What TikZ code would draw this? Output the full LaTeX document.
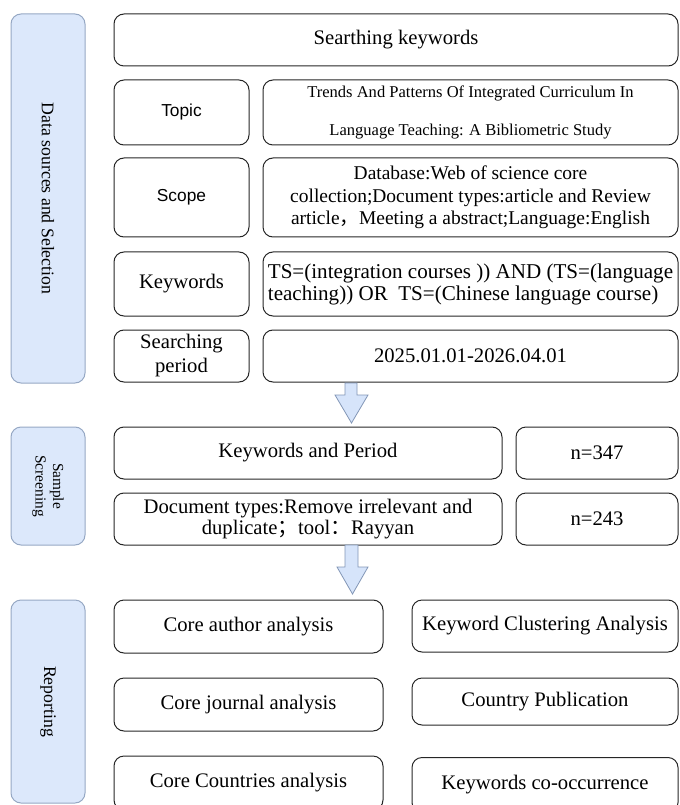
\documentclass[tikz,border=0pt]{standalone}
\usepackage{fontspec}
\setmainfont{Liberation Serif}
\newfontfamily\arialfont{Liberation Sans}
\newfontfamily\cjkfont{Noto Sans CJK SC}
\usetikzlibrary{calc}

\definecolor{panelfill}{RGB}{220,232,251}
\definecolor{paneldraw}{RGB}{150,168,196}
\definecolor{arrowfill}{RGB}{214,228,250}
\definecolor{arrowdraw}{RGB}{130,150,182}

\tikzset{every picture/.style={line width=0.75pt}}
\tikzset{
  stage/.style={draw=paneldraw, fill=panelfill, rounded corners=7.5pt, inner sep=0pt, rotate=-90, align=center},
  box/.style={draw=black!85, rounded corners=7.5pt, align=center, inner sep=0pt, font=\fontsize{15.5}{18}\selectfont},
  flowarrow/.style={draw=arrowdraw, fill=arrowfill, line width=0.6pt, line join=miter},
}

\begin{document}
\begin{tikzpicture}[x=0.75pt,y=0.75pt,yscale=-1,xscale=1]
        \useasboundingbox (0,0) rectangle (680,805);

        % Stages (left column)
        \node [stage, minimum width=276.75pt, minimum height=55.5pt, font=\fontsize{13.3}{16}\selectfont] (datasrc) at (48,198.5) {Data sources and Selection};
        \node [stage, minimum width=88.5pt, minimum height=55.5pt, font=\fontsize{11.5}{13}\selectfont] (screen) at (48,486) {Sample\\Screening};
        \node [stage, minimum width=152.25pt, minimum height=55.5pt, font=\fontsize{13.3}{16}\selectfont] (report) at (48,701.5) {Reporting};

        % Data sources and selection
        \node [box, minimum width=423pt, minimum height=39pt] (search) at (396,40) {Searthing keywords};
        \node [box, minimum width=101.25pt, minimum height=48.75pt, font=\arialfont\fontsize{13}{15}\selectfont] (topic) at (181.5,112.5) {Topic};
        \node [box, minimum width=311.25pt, minimum height=48.75pt, font=\fontsize{12.4}{28.5}\selectfont] (topictxt) at (470.5,112.5) {Trends And Patterns Of Integrated Curriculum In\\Language Teaching: A Bibliometric Study};
        \node [box, minimum width=101.25pt, minimum height=59.25pt, font=\arialfont\fontsize{13}{15}\selectfont] (scope) at (181.5,197.5) {Scope};
        \node [box, minimum width=311.25pt, minimum height=59.25pt, font=\fontsize{14.6}{17}\selectfont] (scopetxt) at (470.5,197.5) {Database:Web of science core\\collection;Document types:article and Review\\article{\cjkfont ，}Meeting a abstract;Language:English};
        \node [box, minimum width=101.25pt, minimum height=48pt] (kw) at (181.5,284) {Keywords};
        \node [box, minimum width=311.25pt, minimum height=48pt, align=left, font=\fontsize{15.8}{16.5}\selectfont] (kwtxt) at (470.5,284) {TS=(integration courses )) AND (TS=(language\\teaching)) OR\ \ TS=(Chinese language course)};
        \node [box, minimum width=101.25pt, minimum height=39pt, font=\fontsize{15.5}{18}\selectfont] (period) at (181.5,356) {Searching\\period};
        \node [box, minimum width=311.25pt, minimum height=39pt] (periodtxt) at (470.5,356) {2025.01.01-2026.04.01};

        % Sample screening
        \node [box, minimum width=291pt, minimum height=39pt] (kwper) at (308,453) {Keywords and Period};
        \node [box, minimum width=121.5pt, minimum height=39pt] (n347) at (597,453) {n=347};
        \node [box, minimum width=291pt, minimum height=39pt, font=\fontsize{15.5}{16}\selectfont] (doctype) at (308,519) {Document types:Remove irrelevant and\\duplicate{\cjkfont ；}tool{\cjkfont ：}Rayyan};
        \node [box, minimum width=121.5pt, minimum height=39pt] (n243) at (597,519) {n=243};

        % Reporting
        \node [box, minimum width=201.75pt, minimum height=39.75pt] (author) at (248.5,626.5) {Core author analysis};
        \node [box, minimum width=199.5pt, minimum height=39pt] (cluster) at (545,626) {Keyword Clustering Analysis};
        \node [box, minimum width=201.75pt, minimum height=39.75pt] (journal) at (248.5,704.5) {Core journal analysis};
        \node [box, minimum width=199.5pt, minimum height=35.25pt] (country) at (545,701.5) {Country Publication};
        \node [box, minimum width=201.75pt, minimum height=40.5pt] (countries) at (248.5,783) {Core Countries analysis};
        \node [box, minimum width=199.5pt, minimum height=41.25pt] (cooccur) at (545,785) {Keywords co-occurrence};

        % Block arrows
        \coordinate (ar1s) at (351,383);
        \coordinate (ar1e) at (351.5,423);
        \coordinate (ar2s) at (351.5,545);
        \coordinate (ar2e) at (352.5,594);
        \draw [flowarrow] ($(ar1s)+(-6,0)$) -- ($(ar1s)+(-6,12)$) -- ($(ar1s)+(-16,12)$) -- (ar1e) -- ($(ar1s)+(17,12)$) -- ($(ar1s)+(6,12)$) -- ($(ar1s)+(6,0)$) -- cycle;
        \draw [flowarrow] ($(ar2s)+(-6.5,0)$) -- ($(ar2s)+(-6.5,22)$) -- ($(ar2s)+(-14.5,22)$) -- (ar2e) -- ($(ar2s)+(16.5,22)$) -- ($(ar2s)+(6.5,22)$) -- ($(ar2s)+(6.5,0)$) -- cycle;
\end{tikzpicture}
\end{document}
